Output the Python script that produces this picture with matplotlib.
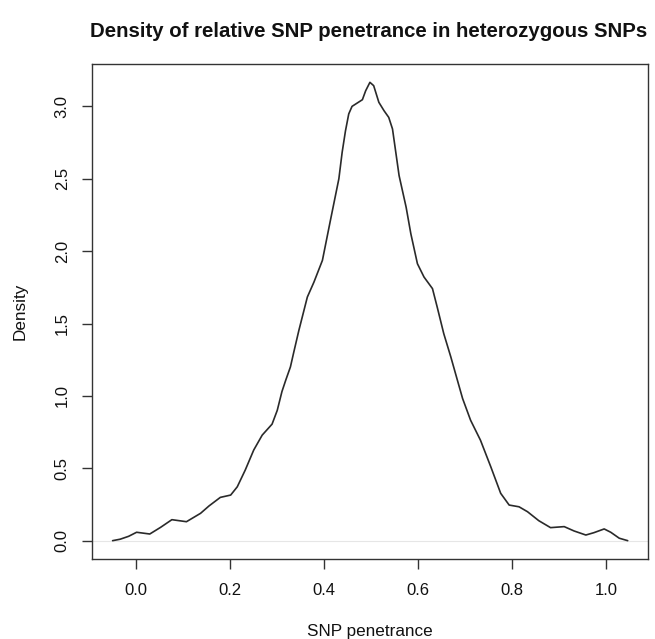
import matplotlib
matplotlib.use("Agg")
import matplotlib.pyplot as plt
import numpy as np

plt.rcParams['font.family'] = ['Liberation Sans', 'DejaVu Sans']

title = "Density of relative SNP penetrance in heterozygous SNPs"
x_label = "SNP penetrance"
y_label = "Density"

penetrance = [-0.049, -0.033, -0.015, 0.002, 0.030, 0.053, 0.077, 0.108, 0.138, 0.156,
              0.180, 0.202, 0.216, 0.233, 0.251, 0.269, 0.290, 0.301, 0.311, 0.319,
              0.329, 0.336, 0.347, 0.365, 0.379, 0.397, 0.414, 0.432, 0.439, 0.446,
              0.453, 0.460, 0.471, 0.482, 0.489, 0.498, 0.506, 0.517, 0.528, 0.538,
              0.546, 0.553, 0.560, 0.575, 0.585, 0.599, 0.613, 0.631, 0.641, 0.655,
              0.670, 0.684, 0.695, 0.712, 0.733, 0.755, 0.776, 0.794, 0.815, 0.833,
              0.857, 0.882, 0.911, 0.932, 0.957, 0.974, 0.996, 1.010, 1.028, 1.046]
density = [0.000, 0.010, 0.030, 0.058, 0.046, 0.092, 0.145, 0.131, 0.189, 0.240,
           0.299, 0.315, 0.372, 0.488, 0.626, 0.729, 0.805, 0.900, 1.030, 1.108,
           1.200, 1.300, 1.453, 1.683, 1.786, 1.936, 2.212, 2.500, 2.683, 2.830,
           2.948, 3.000, 3.023, 3.046, 3.108, 3.166, 3.143, 3.028, 2.970, 2.924,
           2.844, 2.683, 2.522, 2.303, 2.120, 1.913, 1.821, 1.741, 1.614, 1.430,
           1.269, 1.108, 0.982, 0.832, 0.694, 0.510, 0.327, 0.246, 0.234, 0.200,
           0.138, 0.090, 0.097, 0.067, 0.039, 0.055, 0.081, 0.058, 0.017, 0.000]

x_ticks = [0.0, 0.2, 0.4, 0.6, 0.8, 1.0]
x_tick_labels = ["0.0", "0.2", "0.4", "0.6", "0.8", "1.0"]
y_ticks = [0.0, 0.5, 1.0, 1.5, 2.0, 2.5, 3.0]
y_tick_labels = ["0.0", "0.5", "1.0", "1.5", "2.0", "2.5", "3.0"]

W, H = 655, 639
fig = plt.figure(figsize=(W / 100, H / 100), dpi=100)
L, R, T, B = 92, 648.3, 64, 559
ax = fig.add_axes([L / W, 1 - B / H, (R - L) / W, (B - T) / H])

ax.axhline(0, color='#e6e6e6', lw=0.8, zorder=1)
ax.plot(penetrance, density, color='#2a2a2a', lw=1.2, zorder=3,
        solid_joinstyle='round', solid_capstyle='round')

xmin, xmax = min(penetrance), max(penetrance)
ymin, ymax = min(density), max(density)
ax.set_xlim(xmin - 0.04 * (xmax - xmin), xmax + 0.04 * (xmax - xmin))
ax.set_ylim(ymin - 0.04 * (ymax - ymin), ymax + 0.04 * (ymax - ymin))

ax.set_xticks(x_ticks)
ax.set_xticklabels(x_tick_labels)
ax.set_yticks(y_ticks)
ax.set_yticklabels(y_tick_labels, rotation=90, va='center')

for s in ax.spines.values():
    s.set_color('#333333')
    s.set_linewidth(1.0)

ax.tick_params(axis='both', direction='out', length=7, width=1.0, color='#333333',
               labelsize=12, labelcolor='#111111')
ax.tick_params(axis='x', pad=10)
ax.tick_params(axis='y', pad=9)

ax.set_xlabel(x_label, fontsize=12.3, color='#111111', va='center')
ax.xaxis.set_label_coords(0.5, (B - 631.5) / (B - T))
ax.set_ylabel(y_label, fontsize=12.3, color='#111111', va='center')
ax.yaxis.set_label_coords((20 - L) / (R - L), 0.5)

fig.text(369 / W, 1 - 37 / H, title, ha='center', va='baseline',
         fontsize=14.7, fontweight='bold', color='#111111')

fig.savefig("out.png", dpi=100)
